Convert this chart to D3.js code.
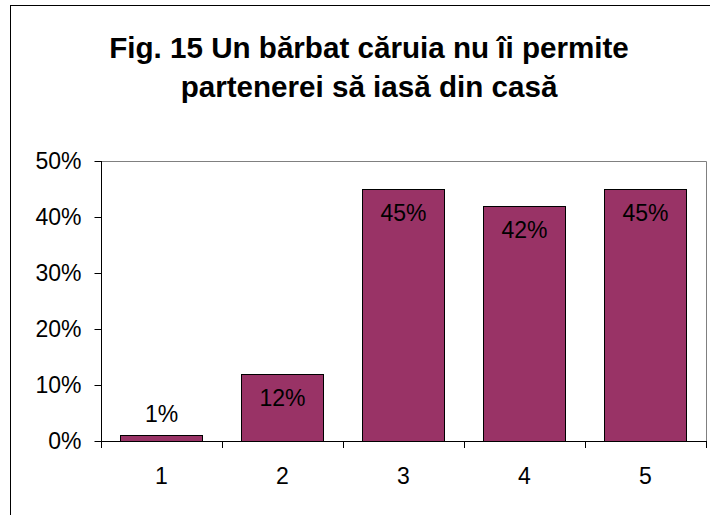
<!DOCTYPE html>
<html>
<head>
<meta charset="utf-8">
<script src="https://cdn.jsdelivr.net/npm/d3@7"></script>
<style>
  body { margin: 0; background: #fff; }
  text { font-family: Arial, "Liberation Sans", sans-serif; fill: #000; }
</style>
</head>
<body>
<svg></svg>
<script>
// Data
const categories = ['1', '2', '3', '4', '5']
const values = [1, 12, 45, 42, 45]
const yTicks = [0, 10, 20, 30, 40, 50]
const titleLines = ['Fig. 15 Un bărbat căruia nu îi permite', 'partenerei să iasă din casă']

const width = 710
const height = 515
const plot = { left: 101, right: 706, top: 161, bottom: 441 }

const svg = d3.select('svg')
    .attr('width', width)
    .attr('height', height)

// outer chart border (runs off the right / bottom edge)
svg.append('rect')
    .attr('x', 10.5).attr('y', 5.5)
    .attr('width', 720).attr('height', 520)
    .attr('fill', 'none')
    .attr('stroke', '#000')

// title
svg.append('g').selectAll('text')
    .data(titleLines)
    .enter()
    .append('text')
    .attr('x', 369)
    .attr('y', (d, i) => 58 + i * 39)
    .attr('text-anchor', 'middle')
    .style('font-size', '29.6px')
    .style('font-weight', 'bold')
    .text(d => d)

// scales
const xScale = d3.scaleBand()
    .domain(categories)
    .range([plot.left, plot.right])
    .paddingInner(0.32)
    .paddingOuter(0.16)

const yScale = d3.scaleLinear()
    .domain([0, 50])
    .range([plot.bottom, plot.top])

// plot area frame (top and right, gray)
svg.append('path')
    .attr('d', `M${plot.left},${plot.top + 0.5}H${plot.right + 0.5}V${plot.bottom}`)
    .attr('fill', 'none')
    .attr('stroke', '#808080')

// bars
svg.selectAll('rect.bar')
    .data(values)
    .enter()
    .append('rect')
    .attr('class', 'bar')
    .attr('x', (d, i) => Math.round(xScale(categories[i])) + 0.5)
    .attr('y', d => Math.round(yScale(d)) + 0.5)
    .attr('width', Math.round(xScale.bandwidth()))
    .attr('height', d => plot.bottom - Math.round(yScale(d)))
    .attr('fill', '#993366')
    .attr('stroke', '#000')

// data labels
svg.selectAll('text.label')
    .data(values)
    .enter()
    .append('text')
    .attr('class', 'label')
    .attr('x', (d, i) => xScale(categories[i]) + xScale.bandwidth() / 2)
    .attr('y', d => d < 5 ? yScale(d) - 13 : yScale(d) + 32)
    .attr('text-anchor', 'middle')
    .style('font-size', '23px')
    .text(d => d + '%')

// y axis
const yAxis = d3.axisLeft(yScale)
    .tickValues(yTicks)
    .tickSize(7)
    .tickPadding(13)
    .tickFormat(d => d + '%')
const yg = svg.append('g')
    .attr('transform', `translate(${plot.left + 0.5},0)`)
    .call(yAxis)
yg.select('.domain').attr('stroke', '#000').attr('d', `M0,${plot.top}V${plot.bottom}`)
yg.selectAll('.tick line').attr('stroke', '#000')
yg.selectAll('.tick text')
    .style('font-size', '23px')
    .style('font-family', 'Arial, "Liberation Sans", sans-serif')

// x axis: ticks on category boundaries
const bounds = categories.map(c => xScale(c) - xScale.step() * xScale.paddingInner() / 2)
bounds.push(plot.right)
const xg = svg.append('g')
xg.append('line')
    .attr('x1', plot.left).attr('x2', plot.right + 1)
    .attr('y1', plot.bottom + 0.5).attr('y2', plot.bottom + 0.5)
    .attr('stroke', '#000')
xg.selectAll('line.tick')
    .data(bounds)
    .enter()
    .append('line')
    .attr('class', 'tick')
    .attr('x1', d => Math.round(d) + 0.5).attr('x2', d => Math.round(d) + 0.5)
    .attr('y1', plot.bottom).attr('y2', plot.bottom + 7)
    .attr('stroke', '#000')
xg.selectAll('text')
    .data(categories)
    .enter()
    .append('text')
    .attr('x', d => xScale(d) + xScale.bandwidth() / 2)
    .attr('y', 484)
    .attr('text-anchor', 'middle')
    .style('font-size', '23px')
    .text(d => d)
</script>
</body>
</html>
